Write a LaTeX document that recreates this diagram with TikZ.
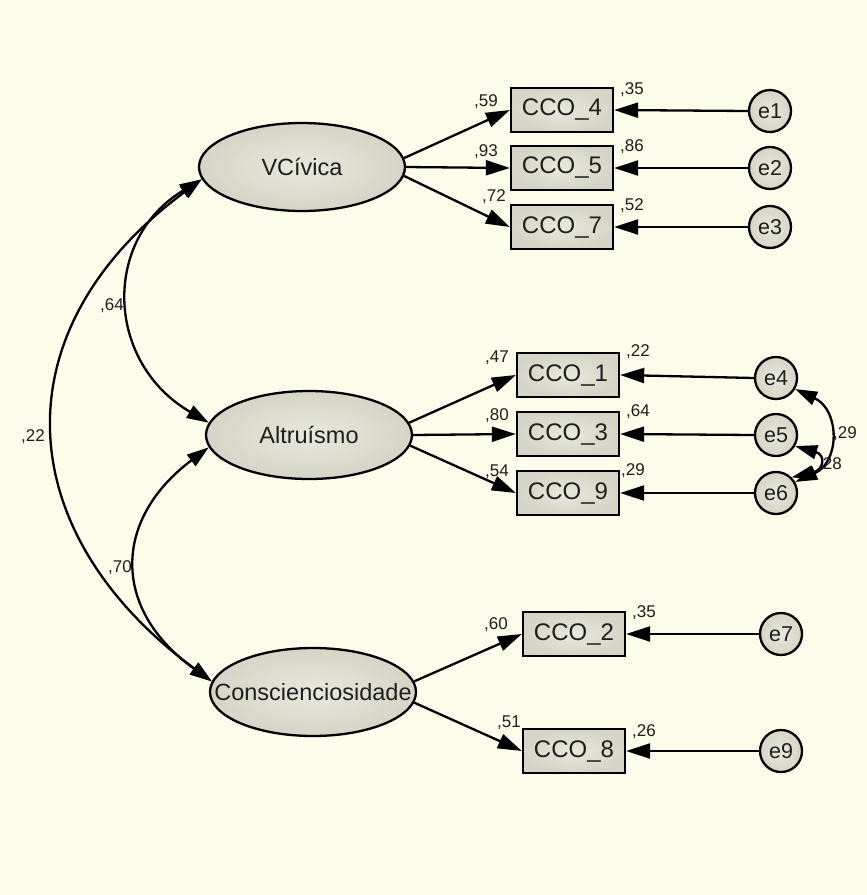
\documentclass[tikz,border=0pt]{standalone}
\usepackage{fontspec}
\setmainfont{Liberation Sans}
\usetikzlibrary{arrows.meta,shapes.geometric}
\definecolor{bg}{RGB}{251,252,234}
\definecolor{fillin}{RGB}{232,233,221}
\definecolor{fillout}{RGB}{212,213,198}
\definecolor{txt}{RGB}{30,30,30}
\begin{document}
\begin{tikzpicture}[x=1pt,y=-1pt,
 shp/.style={draw,line width=2.3pt,inner color=fillin,outer color=fillout,inner sep=0pt,text=txt},
 latent/.style={shp,ellipse,minimum width=206pt,minimum height=88pt,font=\fontsize{23.5}{23.5}\selectfont},
 obs/.style={shp,rectangle,minimum width=102pt,minimum height=44pt,font=\fontsize{24}{24}\selectfont},
 err/.style={shp,circle,minimum size=42pt,font=\fontsize{21.5}{21.5}\selectfont},
 lbl/.style={font=\fontsize{17}{17}\selectfont,text=txt,inner sep=0pt},
 load/.style={line width=2.3pt,-{Triangle[length=24pt,width=15pt]}},
 cov/.style={line width=2.3pt,{Triangle[length=22pt,width=14pt]}-{Triangle[length=22pt,width=14pt]}},
]
\fill[bg] (0,0) rectangle (867,895);
\useasboundingbox (0,0) rectangle (867,895);

% latent variables
\node[latent] (VC) at (302,167) {\makebox[0pt]{VCívica}};
\node[latent] (AL) at (309,435) {\makebox[0pt]{Altruísmo}};
\node[latent] (CO) at (313,692) {\makebox[0pt]{Conscienciosidade}};

% observed
\node[obs] (c4) at (562,110) {CCO\_4};
\node[obs] (c5) at (562,168) {CCO\_5};
\node[obs] (c7) at (562,227) {CCO\_7};
\node[obs] (c1) at (568,375) {CCO\_1};
\node[obs] (c3) at (568,434) {CCO\_3};
\node[obs] (c9) at (568,493) {CCO\_9};
\node[obs] (c2) at (574,634) {CCO\_2};
\node[obs] (c8) at (574,751) {CCO\_8};

% errors
\node[err] (e1) at (770,111) {e1};
\node[err] (e2) at (770,168) {e2};
\node[err] (e3) at (770,227) {e3};
\node[err] (e4) at (776,378) {e4};
\node[err] (e5) at (776,435) {e5};
\node[err] (e6) at (776,493) {e6};
\node[err] (e7) at (781,634) {e7};
\node[err] (e9) at (781,751) {e9};

% loadings
\draw[load] (VC.5) -- (c4.west);
\draw[load] (VC.east) -- (c5.west);
\draw[load] (VC.-5) -- (c7.west);
\draw[load] (AL.7) -- (c1.west);
\draw[load] (AL.east) -- (c3.west);
\draw[load] (AL.-6) -- (c9.west);
\draw[load] (CO.6) -- (c2.west);
\draw[load] (CO.-6) -- (c8.west);

% error paths
\draw[load] (e1.west) -- (c4.east);
\draw[load] (e2.west) -- (c5.east);
\draw[load] (e3.west) -- (c7.east);
\draw[load] (e4.west) -- (c1.east);
\draw[load] (e5.west) -- (c3.east);
\draw[load] (e6.west) -- (c9.east);
\draw[load] (e7.west) -- (c2.east);
\draw[load] (e9.west) -- (c8.east);

% covariances between latent variables
\draw[cov] (VC.187) .. controls (101,240) and (106,363) .. (AL.173);
\draw[cov] (VC.187) .. controls (-2,330) and (9,532) .. (CO.174);
\draw[cov] (AL.187) .. controls (112,520) and (112,610) .. (CO.174);

% covariances between errors
\draw[cov] (e4.-30) .. controls (840,410) and (840,462) .. (e6.30);
\draw[cov] (e5.-30) .. controls (826,455) and (824,470) .. (e6.45);

% labels
\node[lbl] (l59) at (486,102) {,59};
\node[lbl] (l93) at (486,152) {,93};
\node[lbl] (l72) at (494,197) {,72};
\node[lbl] (l35a) at (632,90) {,35};
\node[lbl] (l86) at (632,147) {,86};
\node[lbl] (l52) at (632,206) {,52};
\node[lbl] (l47) at (497,358) {,47};
\node[lbl] (l80) at (497,416) {,80};
\node[lbl] (l54) at (497,472) {,54};
\node[lbl] (l22b) at (638,352) {,22};
\node[lbl] (l64b) at (638,412) {,64};
\node[lbl] (l29a) at (633,471) {,29};
\node[lbl] (l29b) at (845,434) {,29};
\node[lbl] (l28) at (830,465) {,28};
\node[lbl] (l60) at (496,625) {,60};
\node[lbl] (l51) at (509,723) {,51};
\node[lbl] (l35b) at (644,613) {,35};
\node[lbl] (l26) at (644,732) {,26};
\node[lbl] (l64) at (112,306) {,64};
\node[lbl] (l22) at (33,437) {,22};
\node[lbl] (l70) at (120,568) {,70};
\end{tikzpicture}
\end{document}
